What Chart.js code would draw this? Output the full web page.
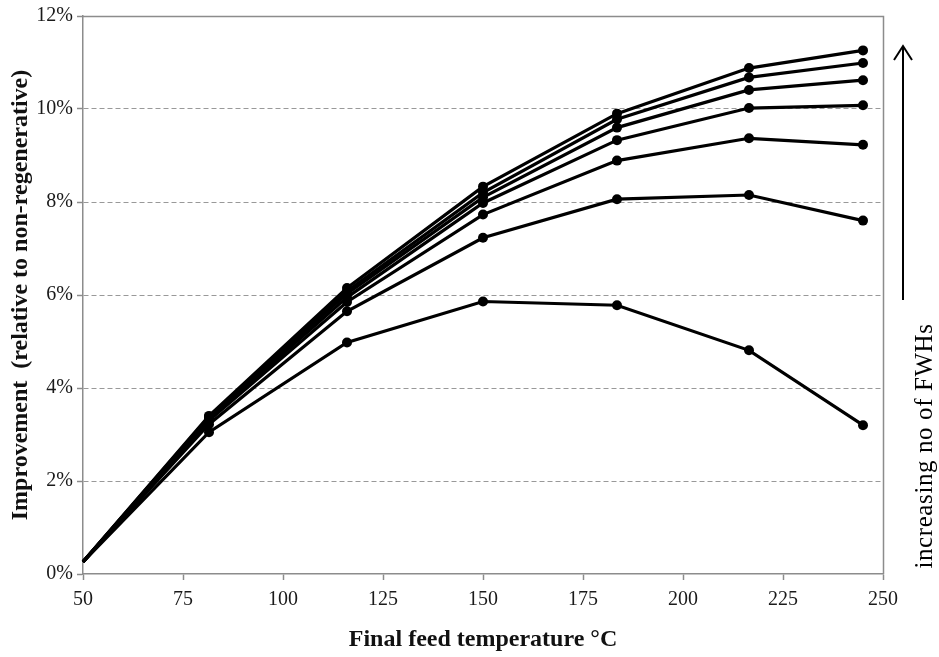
<!DOCTYPE html>
<html>
<head>
<meta charset="utf-8">
<script src="https://cdn.jsdelivr.net/npm/chart.js"></script>
<style>
  html, body { margin: 0; padding: 0; background: #fff; }
  #wrap { width: 939px; height: 657px; }
</style>
</head>
<body>
<div id="wrap"><canvas id="c" width="939" height="657"></canvas></div>
<script>
const temps = [50, 81.5, 116, 150, 183.5, 216.5, 245];
const s1 = [0.26, 3.05, 4.98, 5.86, 5.78, 4.81, 3.20];
const s2 = [0.26, 3.22, 5.65, 7.23, 8.06, 8.15, 7.60];
const s3 = [0.26, 3.30, 5.85, 7.73, 8.89, 9.37, 9.23];
const s4 = [0.26, 3.33, 5.95, 7.98, 9.33, 10.02, 10.08];
const s5 = [0.26, 3.36, 6.03, 8.10, 9.60, 10.41, 10.62];
const s6 = [0.26, 3.38, 6.08, 8.20, 9.78, 10.68, 10.99];
const s7 = [0.26, 3.40, 6.15, 8.33, 9.90, 10.88, 11.26];
const series = [s1, s2, s3, s4, s5, s6, s7];
const yTicks = [0, 2, 4, 6, 8, 10, 12];
const xTitle = 'Final feed temperature \u00B0C';
const yTitle = 'Improvement  (relative to non-regenerative)';
const sideNote = 'increasing no of FWHs';

const FONT = '"Liberation Serif", "DejaVu Serif", serif';
const AXIS = '#8c8c8c';

const datasets = series.map(s => ({
  data: s.map((v, i) => ({ x: temps[i], y: v })),
  borderColor: '#000',
  backgroundColor: '#000',
  borderWidth: 3.2,
  pointRadius: ctx => ctx.dataIndex === 0 ? 0 : 5,
  pointHoverRadius: 5,
  pointBorderWidth: 0,
  tension: 0,
  clip: false
}));

const extras = {
  id: 'extras',
  afterDraw(chart) {
    const { ctx, chartArea: a } = chart;
    ctx.save();
    // top and right border
    ctx.strokeStyle = AXIS;
    ctx.lineWidth = 1.5;
    ctx.beginPath();
    ctx.moveTo(a.left, a.top + 0.5);
    ctx.lineTo(a.right + 0.5, a.top + 0.5);
    ctx.lineTo(a.right + 0.5, a.bottom);
    ctx.stroke();
    // arrow
    const ax = 903;
    ctx.strokeStyle = '#000';
    ctx.lineWidth = 2;
    ctx.beginPath();
    ctx.moveTo(ax, 300);
    ctx.lineTo(ax, 46);
    ctx.stroke();
    ctx.beginPath();
    ctx.moveTo(ax - 9, 60);
    ctx.lineTo(ax, 46);
    ctx.lineTo(ax + 9, 60);
    ctx.stroke();
    // side text
    ctx.fillStyle = '#000';
    ctx.font = '25px ' + FONT;
    ctx.letterSpacing = '0.6px';
    ctx.textAlign = 'center';
    ctx.textBaseline = 'middle';
    ctx.translate(925, 446);
    ctx.rotate(-Math.PI / 2);
    ctx.fillText(sideNote, 0, 0);
    ctx.restore();
  }
};

new Chart(document.getElementById('c'), {
  type: 'line',
  data: { datasets },
  options: {
    responsive: false,
    animation: false,
    devicePixelRatio: 1,
    layout: { padding: { top: 15, right: 56, left: 0, bottom: 0 } },
    plugins: { legend: { display: false }, tooltip: { enabled: false } },
    scales: {
      x: {
        type: 'linear',
        min: 50, max: 250,
        afterFit: s => { s.height = 83; },
        ticks: { stepSize: 25, color: '#1a1a1a', font: { family: FONT, size: 20 }, padding: 8, maxRotation: 0 },
        grid: { drawOnChartArea: false, drawTicks: true, tickLength: 6, tickColor: AXIS, tickWidth: 1.5 },
        border: { color: AXIS, width: 1.5 },
        title: { display: true, text: xTitle, color: '#111', font: { family: FONT, size: 24, weight: 'bold' }, padding: { top: 0, bottom: 3 } }
      },
      y: {
        min: 0, max: 12,
        afterFit: s => { s.width = 83; },
        afterBuildTicks: s => { s.ticks = yTicks.map(v => ({ value: v })); },
        ticks: { color: '#1a1a1a', font: { family: FONT, size: 20 }, padding: 4, callback: v => v + '%' },
        grid: {
          color: c => (c.tick && (c.tick.value === 0 || c.tick.value === 12)) ? 'rgba(0,0,0,0)' : '#999',
          lineWidth: 1,
          drawTicks: true, tickLength: 6, tickColor: AXIS, tickWidth: 1.5, tickBorderDash: []
        },
        border: { color: AXIS, width: 1.5, dash: [5, 3] },
        title: { display: true, text: yTitle, color: '#111', font: { family: FONT, size: 24, weight: 'bold' }, padding: { top: 6, bottom: 0 } }
      }
    }
  },
  plugins: [extras]
});
</script>
</body>
</html>
